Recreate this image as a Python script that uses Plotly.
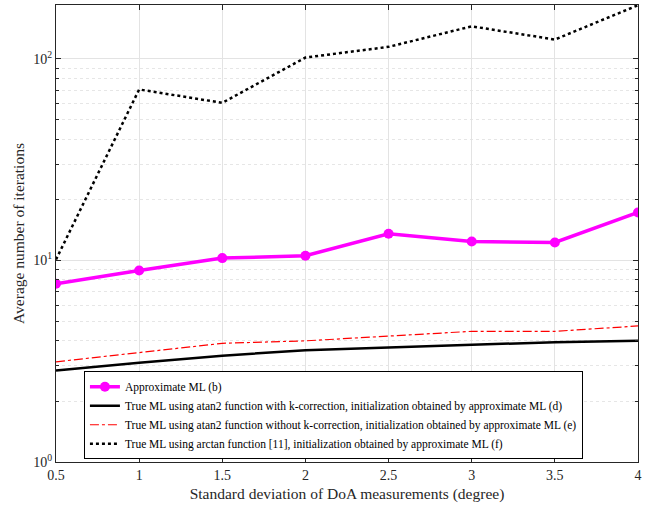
import plotly.graph_objects as go
import math

x_std = [0.5, 1, 1.5, 2, 2.5, 3, 3.5, 4]
approx_ml = [7.66, 8.92, 10.27, 10.55, 13.55, 12.42, 12.27, 17.29]
atan2_kcorr = [2.84, 3.11, 3.37, 3.58, 3.70, 3.82, 3.93, 4.00]
atan2_nokcorr = [3.14, 3.49, 3.88, 3.99, 4.21, 4.45, 4.45, 4.73]
arctan_ml = [10.1, 70.5, 60.5, 101.5, 114.7, 145.0, 124.7, 184.5]

x_ticks = [0.5, 1, 1.5, 2, 2.5, 3, 3.5, 4]
x_ticklabels = ["0.5", "1", "1.5", "2", "2.5", "3", "3.5", "4"]
y_ticks = [1, 10, 100]
y_ticklabels = ["10<sup>0</sup>", "10<sup>1</sup>", "10<sup>2</sup>"]

names = [
    "Approximate ML (b)",
    "True ML using atan2 function with k-correction, initialization obtained by approximate ML (d)",
    "True ML using atan2 function without k-correction, initialization obtained by approximate ML (e)",
    "True ML using arctan function [11], initialization obtained by approximate ML (f)",
]

FONT = "Liberation Serif"
AX = "#262626"

fig = go.Figure()
fig.add_trace(go.Scatter(x=x_std, y=approx_ml, name=names[0], mode="lines+markers",
                         line=dict(color="#ff00ff", width=3.5),
                         marker=dict(color="#ff00ff", size=10, symbol="circle")))
fig.add_trace(go.Scatter(x=x_std, y=atan2_kcorr, name=names[1], mode="lines",
                         line=dict(color="black", width=2.5)))
fig.add_trace(go.Scatter(x=x_std, y=atan2_nokcorr, name=names[2], mode="lines",
                         line=dict(color="#ff0000", width=1.2, dash="dashdot")))
fig.add_trace(go.Scatter(x=x_std, y=arctan_ml, name=names[3], mode="lines",
                         line=dict(color="black", width=2.5, dash="dot")))

fig.update_layout(
    width=662, height=507,
    margin=dict(l=56, r=24, t=5, b=45, autoexpand=False),
    paper_bgcolor="white", plot_bgcolor="white",
    font=dict(family=FONT, size=14, color=AX),
    showlegend=True,
    legend=dict(x=0.048, y=0.006, xanchor="left", yanchor="bottom",
                bgcolor="white", bordercolor="black", borderwidth=1,
                font=dict(family=FONT, size=11.5, color="black"),
                tracegroupgap=0, itemwidth=30),
)
fig.update_xaxes(
    range=[0.5, 4], tickvals=x_ticks, ticktext=x_ticklabels,
    showgrid=True, gridcolor="#e3e3e3", gridwidth=1,
    showline=True, linecolor=AX, linewidth=1, mirror="ticks",
    ticks="inside", ticklen=5, tickcolor=AX, zeroline=False,
    tickfont=dict(family=FONT, size=14, color=AX), automargin=False,
    title=dict(text="Standard deviation of DoA measurements (degree)",
               font=dict(family=FONT, size=15.5, color=AX), standoff=6),
)
fig.update_yaxes(
    type="log", range=[0, math.log10(185)],
    tickvals=y_ticks, ticktext=y_ticklabels,
    showgrid=True, gridcolor="#e3e3e3", gridwidth=1,
    showline=True, linecolor=AX, linewidth=1, mirror="ticks",
    ticks="inside", ticklen=5, tickcolor=AX, zeroline=False,
    tickfont=dict(family=FONT, size=14, color=AX), automargin=False,
    minor=dict(dtick="D1", ticks="inside", ticklen=3, tickcolor=AX,
               showgrid=True, gridcolor="#e6e6e6", griddash="dot", gridwidth=1),
    title=dict(text="Average number of iterations",
               font=dict(family=FONT, size=15.5, color=AX), standoff=4),
)

post = (
    "document.body.style.margin='0';"
    "var gd=document.getElementById('{plot_id}');"
    "Plotly.relayout(gd,{'legend.font.size':11.5});"
    "if(document.fonts&&document.fonts.ready){document.fonts.ready.then(function(){"
    "Plotly.relayout(gd,{'legend.font.size':11.5});});}"
)
fig.write_html("out.html", config={"displayModeBar": False}, post_script=post)
